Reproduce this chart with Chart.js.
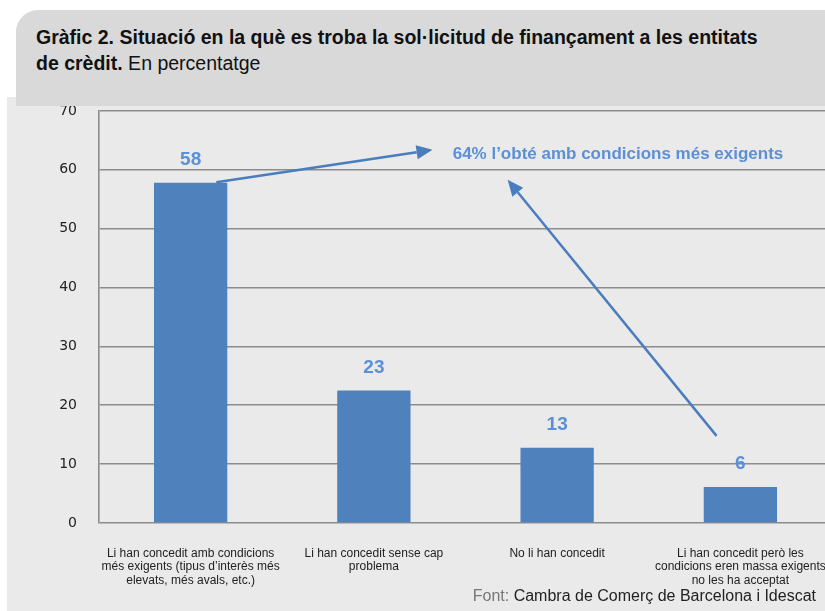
<!DOCTYPE html>
<html>
<head>
<meta charset="utf-8">
<script src="https://cdn.jsdelivr.net/npm/chart.js@4/dist/chart.umd.min.js"></script>
<style>
  body { margin:0; background:#fff; width:825px; height:611px; overflow:hidden; position:relative; font-family:"Liberation Sans", Arial, sans-serif; }
  #panel { position:absolute; left:7px; top:97px; width:830px; height:514px; background:#eaeaea; }
  #head { position:absolute; left:16px; top:10px; width:820px; height:96px; background:#d9d9d9; border-top-left-radius:22px; z-index:2; }
  #title { position:absolute; left:20px; top:14px; font-size:19.5px; line-height:26px; color:#111; white-space:nowrap; }
  #title b { font-weight:bold; }
  #wrap { position:absolute; left:7px; top:97px; width:825px; height:514px; z-index:1; }
  #src { position:absolute; right:9px; top:587px; font-size:16px; color:#222; z-index:3; }
  #src span { color:#777; }
</style>
</head>
<body>
<div id="panel"></div>
<div id="wrap"><canvas id="grafic"></canvas></div>
<div id="head"><div id="title"><b>Gràfic 2. Situació en la què es troba la sol·licitud de finançament a les entitats<br>de crèdit.</b> En percentatge</div></div>
<div id="src"><span>Font:</span> Cambra de Comerç de Barcelona i Idescat</div>
<script>
var categories = [
  ["Li han concedit amb condicions", "més exigents (tipus d’interès més", "elevats, més avals, etc.)"],
  ["Li han concedit sense cap", "problema"],
  ["No li han concedit"],
  ["Li han concedit però les", "condicions eren massa exigents", "no les ha acceptat"]
];
var values = [57.8, 22.5, 12.8, 6.1];
var valueLabels = ["58", "23", "13", "6"];
var yTicks = [0, 10, 20, 30, 40, 50, 60, 70];

// annotation, in data units (category index, percent)
var noteText = "64% l’obté amb condicions més exigents";
var notePos = [1.43, 62.7];
var arrows = [
  { from: [0.14, 57.9], to: [1.32, 63.4] },
  { from: [2.87, 14.8], to: [1.73, 58.3] }
];

var blue = "#4f81bd";
var labelBlue = "#5b8fd8";

var extras = {
  id: "extras",
  afterDatasetsDraw: function(chart) {
    var ctx = chart.ctx;
    var xs = chart.scales.x, ys = chart.scales.y;
    var meta = chart.getDatasetMeta(0);
    ctx.save();
    ctx.fillStyle = labelBlue;
    ctx.font = "bold 19px 'Liberation Sans', Arial, sans-serif";
    ctx.textAlign = "center";
    ctx.textBaseline = "middle";
    meta.data.forEach(function(bar, i) {
      ctx.fillText(valueLabels[i], bar.x, bar.y - 23);
    });

    ctx.font = "bold 17px 'Liberation Sans', Arial, sans-serif";
    ctx.textAlign = "left";
    ctx.fillText(noteText, xs.getPixelForValue(notePos[0]), ys.getPixelForValue(notePos[1]));

    ctx.strokeStyle = "#4a7dbd";
    ctx.fillStyle = "#4a7dbd";
    ctx.lineWidth = 2.5;
    arrows.forEach(function(a) {
      var x1 = xs.getPixelForValue(a.from[0]), y1 = ys.getPixelForValue(a.from[1]);
      var x2 = xs.getPixelForValue(a.to[0]), y2 = ys.getPixelForValue(a.to[1]);
      var ang = Math.atan2(y2 - y1, x2 - x1);
      var hl = 16, hw = 7;
      var bx = x2 - hl * Math.cos(ang), by = y2 - hl * Math.sin(ang);
      ctx.beginPath();
      ctx.moveTo(x1, y1);
      ctx.lineTo(bx, by);
      ctx.stroke();
      ctx.beginPath();
      ctx.moveTo(x2, y2);
      ctx.lineTo(bx + hw * Math.sin(ang), by - hw * Math.cos(ang));
      ctx.lineTo(bx - hw * Math.sin(ang), by + hw * Math.cos(ang));
      ctx.closePath();
      ctx.fill();
    });
    ctx.restore();
  }
};

new Chart(document.getElementById("grafic"), {
  type: "bar",
  data: {
    labels: categories,
    datasets: [{
      data: values,
      backgroundColor: blue,
      barPercentage: 0.4,
      categoryPercentage: 1
    }]
  },
  options: {
    responsive: true,
    maintainAspectRatio: false,
    animation: false,
    layout: { padding: { top: 14, left: 0, right: 0, bottom: 0 } },
    plugins: { legend: { display: false }, tooltip: { enabled: false } },
    scales: {
      x: {
        grid: { display: false, drawTicks: false },
        border: { display: false },
        ticks: {
          color: "#222",
          padding: 24,
          maxRotation: 0,
          autoSkip: false,
          font: { family: "'Liberation Sans', Arial, sans-serif", size: 12, lineHeight: 1.12 }
        },
        afterFit: function(s) { s.height = 88; s.paddingLeft = 0; s.paddingRight = 0; }
      },
      y: {
        min: 0,
        max: 70,
        afterBuildTicks: function(s) { s.ticks = yTicks.map(function(v) { return { value: v }; }); },
        grid: { color: "#8c8c8c", lineWidth: 1.6, drawTicks: false },
        border: { display: true, color: "#8c8c8c", width: 1.6 },
        ticks: {
          color: "#222",
          padding: 22,
          font: { family: "'DejaVu Sans', sans-serif", size: 14 }
        },
        afterFit: function(s) { s.width = 92; s.paddingTop = 0; s.paddingBottom = 0; }
      }
    }
  },
  plugins: [extras]
});
</script>
</body>
</html>
